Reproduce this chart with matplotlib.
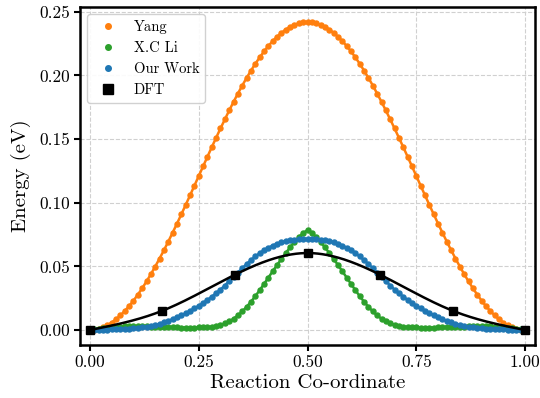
import numpy as np
import matplotlib
matplotlib.use("Agg")
import matplotlib.pyplot as plt
from matplotlib.lines import Line2D

plt.rcParams["font.family"] = ["cmr10"]
plt.rcParams["mathtext.fontset"] = "cm"
plt.rcParams["axes.formatter.use_mathtext"] = True

# Reaction coordinate grid for the computed energy profiles
reaction_coord = np.linspace(0.0, 1.0, 101)

yang = [
    0.0000, 0.0002, 0.0010, 0.0021, 0.0038, 0.0059, 0.0085, 0.0115, 0.0150, 0.0188,
    0.0231, 0.0278, 0.0328, 0.0382, 0.0439, 0.0499, 0.0562, 0.0627, 0.0695, 0.0765,
    0.0836, 0.0909, 0.0983, 0.1058, 0.1134, 0.1210, 0.1286, 0.1362, 0.1437, 0.1511,
    0.1584, 0.1655, 0.1725, 0.1793, 0.1858, 0.1921, 0.1981, 0.2038, 0.2092, 0.2142,
    0.2189, 0.2232, 0.2270, 0.2305, 0.2335, 0.2361, 0.2382, 0.2399, 0.2410, 0.2418,
    0.2420,
    0.2418, 0.2410, 0.2399, 0.2382, 0.2361, 0.2335, 0.2305, 0.2270, 0.2232, 0.2189,
    0.2142, 0.2092, 0.2038, 0.1981, 0.1921, 0.1858, 0.1793, 0.1725, 0.1655, 0.1584,
    0.1511, 0.1437, 0.1362, 0.1286, 0.1210, 0.1134, 0.1058, 0.0983, 0.0909, 0.0836,
    0.0765, 0.0695, 0.0627, 0.0562, 0.0499, 0.0439, 0.0382, 0.0328, 0.0278, 0.0231,
    0.0188, 0.0150, 0.0115, 0.0085, 0.0059, 0.0038, 0.0021, 0.0010, 0.0002, 0.0000,
]

xc_li = [
    0.0000, 0.0005, 0.0010, 0.0015, 0.0019, 0.0022, 0.0025, 0.0027, 0.0028, 0.0029,
    0.0029, 0.0029, 0.0029, 0.0028, 0.0027, 0.0026, 0.0025, 0.0024, 0.0023, 0.0022,
    0.0021, 0.0020, 0.0020, 0.0020, 0.0020, 0.0021, 0.0022, 0.0023, 0.0026, 0.0031,
    0.0040, 0.0052, 0.0068, 0.0089, 0.0115, 0.0146, 0.0182, 0.0222, 0.0266, 0.0313,
    0.0362, 0.0412, 0.0462, 0.0511, 0.0558, 0.0605, 0.0650, 0.0692, 0.0730, 0.0763,
    0.0785,
    0.0763, 0.0730, 0.0692, 0.0650, 0.0605, 0.0558, 0.0511, 0.0462, 0.0412, 0.0362,
    0.0313, 0.0266, 0.0222, 0.0182, 0.0146, 0.0115, 0.0089, 0.0068, 0.0052, 0.0040,
    0.0031, 0.0026, 0.0023, 0.0022, 0.0021, 0.0020, 0.0020, 0.0020, 0.0020, 0.0021,
    0.0022, 0.0023, 0.0024, 0.0025, 0.0026, 0.0027, 0.0028, 0.0029, 0.0029, 0.0029,
    0.0029, 0.0028, 0.0027, 0.0025, 0.0022, 0.0019, 0.0015, 0.0010, 0.0005, 0.0000,
]

our_work = [
    0.0000, 0.0001, 0.0002, 0.0003, 0.0004, 0.0005, 0.0007, 0.0008, 0.0010, 0.0012,
    0.0014, 0.0017, 0.0021, 0.0026, 0.0032, 0.0040, 0.0049, 0.0060, 0.0072, 0.0086,
    0.0101, 0.0116, 0.0133, 0.0151, 0.0170, 0.0191, 0.0213, 0.0237, 0.0262, 0.0289,
    0.0318, 0.0350, 0.0384, 0.0418, 0.0452, 0.0486, 0.0518, 0.0549, 0.0578, 0.0604,
    0.0627, 0.0647, 0.0664, 0.0678, 0.0689, 0.0698, 0.0705, 0.0710, 0.0713, 0.0715,
    0.0716,
    0.0715, 0.0713, 0.0710, 0.0705, 0.0698, 0.0689, 0.0678, 0.0664, 0.0647, 0.0627,
    0.0604, 0.0578, 0.0549, 0.0518, 0.0486, 0.0452, 0.0418, 0.0384, 0.0350, 0.0318,
    0.0289, 0.0262, 0.0237, 0.0213, 0.0191, 0.0170, 0.0151, 0.0133, 0.0116, 0.0101,
    0.0086, 0.0072, 0.0060, 0.0049, 0.0040, 0.0032, 0.0026, 0.0021, 0.0017, 0.0014,
    0.0012, 0.0010, 0.0008, 0.0007, 0.0005, 0.0004, 0.0003, 0.0002, 0.0001, 0.0000,
]

# DFT reference images along the path
dft_x = [0.0, 1 / 6, 2 / 6, 3 / 6, 4 / 6, 5 / 6, 1.0]
dft_y = [0.0, 0.0152, 0.0435, 0.0605, 0.0435, 0.0152, 0.0]

series = [("Yang", yang, "#ff7f0e"),
          ("X.C Li", xc_li, "#2ca02c"),
          ("Our Work", our_work, "#1f77b4")]


def natural_cubic_spline(xk, yk, xs):
    """Evaluate a natural cubic spline through (xk, yk) at xs."""
    xk = np.asarray(xk, float)
    yk = np.asarray(yk, float)
    n = len(xk)
    h = np.diff(xk)
    A = np.zeros((n, n))
    b = np.zeros(n)
    A[0, 0] = A[-1, -1] = 1.0
    for i in range(1, n - 1):
        A[i, i - 1] = h[i - 1]
        A[i, i] = 2 * (h[i - 1] + h[i])
        A[i, i + 1] = h[i]
        b[i] = 3 * ((yk[i + 1] - yk[i]) / h[i] - (yk[i] - yk[i - 1]) / h[i - 1])
    c = np.linalg.solve(A, b)
    out = np.empty_like(xs)
    idx = np.clip(np.searchsorted(xk, xs) - 1, 0, n - 2)
    for j, (x, i) in enumerate(zip(xs, idx)):
        bi = (yk[i + 1] - yk[i]) / h[i] - h[i] * (2 * c[i] + c[i + 1]) / 3
        di = (c[i + 1] - c[i]) / (3 * h[i])
        dx = x - xk[i]
        out[j] = yk[i] + bi * dx + c[i] * dx ** 2 + di * dx ** 3
    return out


fig = plt.figure(figsize=(5.4, 3.98), dpi=100)
ax = fig.add_axes([0.148, 0.133, 0.843, 0.850])

for name, values, color in series:
    ax.plot(reaction_coord, values, "-", color=color, lw=1.8,
            marker="o", ms=3.6, zorder=3)

x_fine = np.linspace(0.0, 1.0, 400)
ax.plot(x_fine, natural_cubic_spline(dft_x, dft_y, x_fine),
        color="black", lw=1.8, zorder=4)
ax.plot(dft_x, dft_y, ls="", marker="s", ms=5.5, color="black", zorder=5)

ax.set_xlim(-0.023, 1.023)
ax.set_ylim(-0.0118, 0.254)
ax.set_xticks([0.0, 0.25, 0.5, 0.75, 1.0])
ax.set_xticklabels(["0.00", "0.25", "0.50", "0.75", "1.00"])
ax.set_yticks([0.0, 0.05, 0.10, 0.15, 0.20, 0.25])
ax.set_yticklabels(["0.00", "0.05", "0.10", "0.15", "0.20", "0.25"])

ax.grid(True, ls="--", color="#d0d0d0", lw=0.8)
ax.set_axisbelow(True)
for sp in ax.spines.values():
    sp.set_linewidth(1.8)
ax.tick_params(width=1.5, length=4, labelsize=12.5, pad=3)

ax.set_xlabel("Reaction Co-ordinate", fontsize=15, labelpad=3)
ax.set_ylabel("Energy (eV)", fontsize=15, labelpad=6)

handles = [Line2D([], [], ls="", marker="o", ms=4, color=c) for _, _, c in series]
handles.append(Line2D([], [], ls="", marker="s", ms=7, color="black"))
labels = [n for n, _, _ in series] + ["DFT"]
ax.legend(handles, labels, loc="upper left", fontsize=10.5, frameon=True,
          edgecolor="#cccccc", framealpha=0.9, borderaxespad=0.5,
          handletextpad=0.8, labelspacing=0.5)

fig.savefig("out.png", dpi=100)
